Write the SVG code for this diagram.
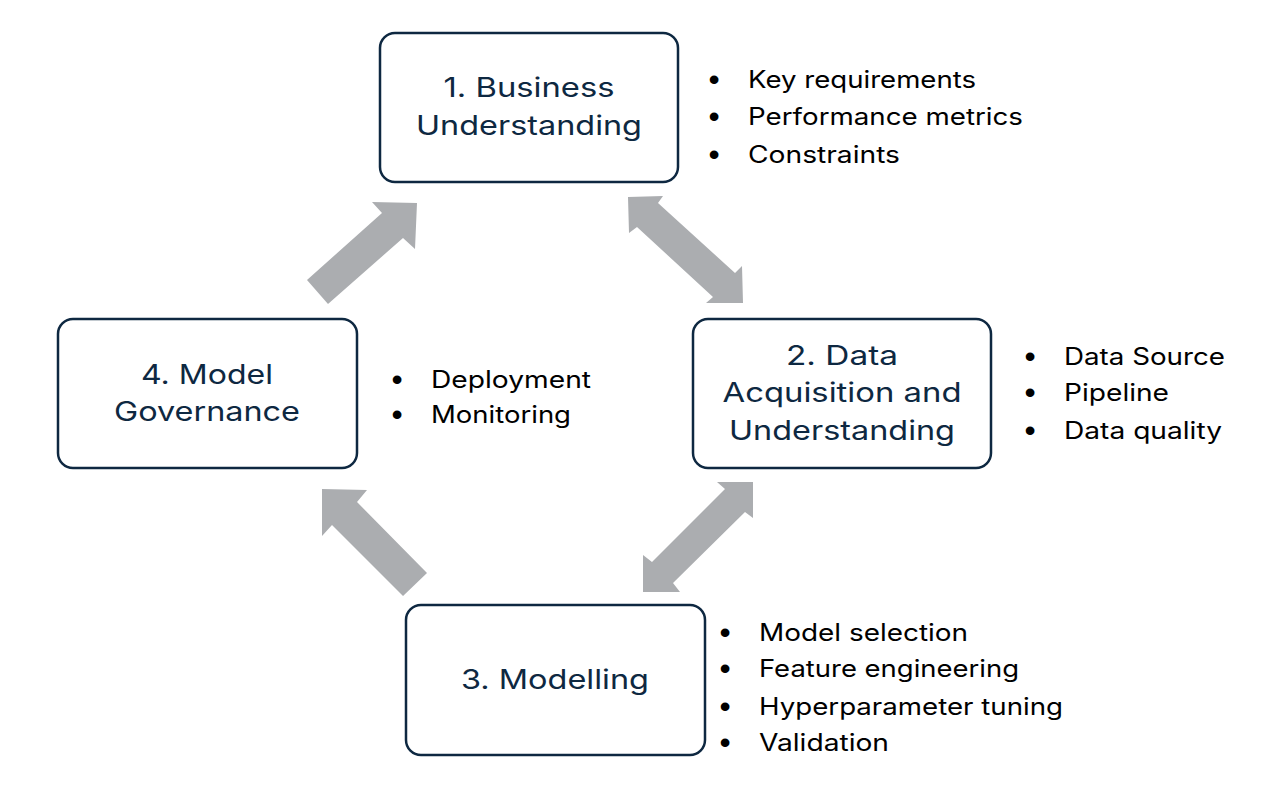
<svg xmlns="http://www.w3.org/2000/svg" width="1281" height="800" viewBox="0 0 1281 800">
<style>
.box{fill:#FFFFFF;stroke:#0E2841;stroke-width:2.5}
.title{font-family:Inter,"Liberation Sans",sans-serif;font-size:27px;fill:#0E2841;text-anchor:middle}
.bul{font-family:Inter,"Liberation Sans",sans-serif;font-size:24px;fill:#000000}
.dot{font-family:"Liberation Sans",sans-serif;font-size:32px;fill:#000000;text-anchor:middle}
.arrow{fill:#ABADB0}
</style>
<rect width="1281" height="800" fill="#FFFFFF"/>
<g id="connectors">
<polygon class="arrow" points="307,280 382,213 372,202 417,203 415,249 403,238 328,304"/>
<polygon class="arrow" points="628,197 663,196 658,203 735,273 742,266 743,303 706,303 713,297 637,227 629,233"/>
<polygon class="arrow" points="322,489 367,490 357,502 427,573 403,596 332,525 322,536"/>
<polygon class="arrow" points="753,482 753,518 745,512 673,583 680,592 643,592 643,555 652,562 725,489 717,482"/>
</g>
<g id="node1">
<rect class="box" x="380" y="33" width="298" height="149" rx="15"/>
<text class="title" x="529" y="97" textLength="171" lengthAdjust="spacingAndGlyphs">1. Business</text>
<text class="title" x="529" y="135" textLength="226" lengthAdjust="spacingAndGlyphs">Understanding</text>
</g>
<g id="bullets1">
<text class="dot" x="714" y="90">•</text>
<text class="bul" x="748" y="88" textLength="228" lengthAdjust="spacingAndGlyphs">Key requirements</text>
<text class="dot" x="714" y="127">•</text>
<text class="bul" x="748" y="125" textLength="275" lengthAdjust="spacingAndGlyphs">Performance metrics</text>
<text class="dot" x="714" y="165">•</text>
<text class="bul" x="748" y="163" textLength="152" lengthAdjust="spacingAndGlyphs">Constraints</text>
</g>
<g id="node2">
<rect class="box" x="693" y="319" width="298" height="149" rx="15"/>
<text class="title" x="842" y="365" textLength="112" lengthAdjust="spacingAndGlyphs">2. Data</text>
<text class="title" x="842" y="402" textLength="239" lengthAdjust="spacingAndGlyphs">Acquisition and</text>
<text class="title" x="842" y="440" textLength="226" lengthAdjust="spacingAndGlyphs">Understanding</text>
</g>
<g id="bullets2">
<text class="dot" x="1030" y="367">•</text>
<text class="bul" x="1064" y="365" textLength="161" lengthAdjust="spacingAndGlyphs">Data Source</text>
<text class="dot" x="1030" y="403">•</text>
<text class="bul" x="1064" y="401" textLength="105" lengthAdjust="spacingAndGlyphs">Pipeline</text>
<text class="dot" x="1030" y="441">•</text>
<text class="bul" x="1064" y="439" textLength="158" lengthAdjust="spacingAndGlyphs">Data quality</text>
</g>
<g id="node3">
<rect class="box" x="406" y="605" width="299" height="150" rx="15"/>
<text class="title" x="555" y="689" textLength="188" lengthAdjust="spacingAndGlyphs">3. Modelling</text>
</g>
<g id="bullets3">
<text class="dot" x="725" y="643">•</text>
<text class="bul" x="759" y="641" textLength="209" lengthAdjust="spacingAndGlyphs">Model selection</text>
<text class="dot" x="725" y="679">•</text>
<text class="bul" x="759" y="677" textLength="260" lengthAdjust="spacingAndGlyphs">Feature engineering</text>
<text class="dot" x="725" y="717">•</text>
<text class="bul" x="759" y="715" textLength="304" lengthAdjust="spacingAndGlyphs">Hyperparameter tuning</text>
<text class="dot" x="725" y="753">•</text>
<text class="bul" x="759" y="751" textLength="130" lengthAdjust="spacingAndGlyphs">Validation</text>
</g>
<g id="node4">
<rect class="box" x="58" y="319" width="299" height="149" rx="15"/>
<text class="title" x="207" y="384" textLength="132" lengthAdjust="spacingAndGlyphs">4. Model</text>
<text class="title" x="207" y="421" textLength="186" lengthAdjust="spacingAndGlyphs">Governance</text>
</g>
<g id="bullets4">
<text class="dot" x="397" y="390">•</text>
<text class="bul" x="431" y="388" textLength="160" lengthAdjust="spacingAndGlyphs">Deployment</text>
<text class="dot" x="397" y="425">•</text>
<text class="bul" x="431" y="423" textLength="140" lengthAdjust="spacingAndGlyphs">Monitoring</text>
</g>
</svg>
